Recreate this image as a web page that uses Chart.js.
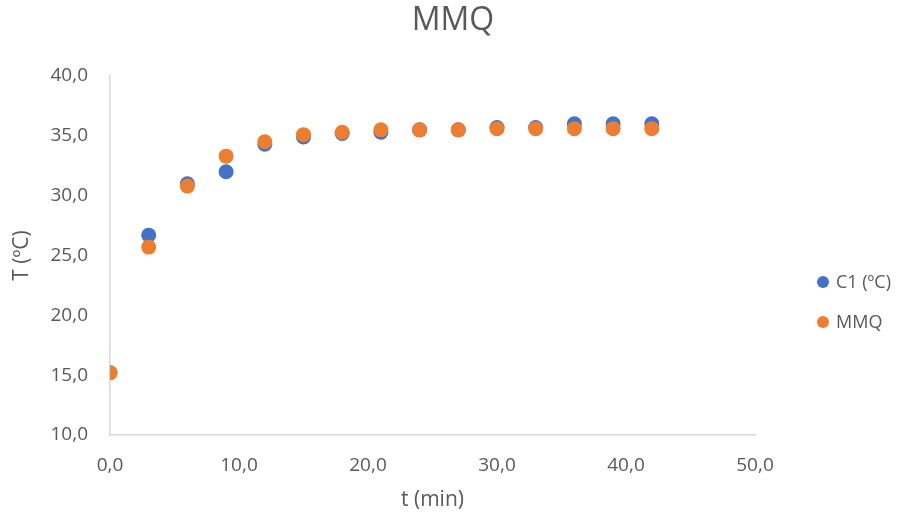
<!DOCTYPE html>
<html lang="pt">
<head>
  <meta charset="UTF-8">
  <title>MMQ</title>
  <script src="https://cdn.jsdelivr.net/npm/chart.js"></script>
  <style>
    html, body { margin: 0; padding: 0; background: #ffffff; }
    #wrap { width: 906px; height: 519px; }
  </style>
</head>
<body>
  <div id="wrap"><canvas id="chart" width="906" height="519"></canvas></div>

  <script>
    // time (min)
    const times = [0, 3, 6, 9, 12, 15, 18, 21, 24, 27, 30, 33, 36, 39, 42];
    // measured C1 temperature (ºC)
    const c1 = [15.2, 26.7, 31.0, 32.0, 34.3, 34.9, 35.2, 35.3, 35.5, 35.5, 35.7, 35.7, 36.0, 36.0, 36.0];
    // least squares fit (MMQ)
    const mmq = [15.2, 25.7, 30.8, 33.3, 34.5, 35.1, 35.3, 35.5, 35.5, 35.5, 35.6, 35.6, 35.6, 35.6, 35.6];

    const xTicks = [0, 10, 20, 30, 40, 50];
    const yTicks = [10, 15, 20, 25, 30, 35, 40];

    const textColor = '#595959';
    const axisColor = '#d9d9d9';
    const font = '"Open Sans", sans-serif';

    const toPoints = ys => times.map((t, i) => ({ x: t, y: ys[i] }));
    const fmt = v => v.toFixed(1).replace('.', ',');

    // legend drawn at the right, like the spreadsheet one
    const sideLegend = {
      id: 'sideLegend',
      afterDraw(chart) {
        const ctx = chart.ctx;
        const items = chart.data.datasets;
        ctx.save();
        ctx.font = '18px ' + font;
        ctx.textBaseline = 'middle';
        items.forEach((ds, i) => {
          const y = 282 + i * 40;
          ctx.fillStyle = ds.backgroundColor;
          ctx.beginPath();
          ctx.arc(823, y, 6, 0, Math.PI * 2);
          ctx.fill();
          ctx.fillStyle = textColor;
          ctx.fillText(ds.label, 836, y + 1);
        });
        ctx.restore();
      }
    };

    new Chart(document.getElementById('chart'), {
      type: 'scatter',
      data: {
        datasets: [
          {
            label: 'C1 (ºC)',
            data: toPoints(c1),
            backgroundColor: '#4472c4',
            borderWidth: 0,
            pointRadius: 7.5,
            pointHoverRadius: 7.5,
            order: 1
          },
          {
            label: 'MMQ',
            data: toPoints(mmq),
            backgroundColor: '#ed7d31',
            borderWidth: 0,
            pointRadius: 7.5,
            pointHoverRadius: 7.5,
            order: 0
          }
        ]
      },
      options: {
        responsive: false,
        animation: false,
        layout: { padding: 0 },
        plugins: {
          legend: { display: false },
          tooltip: { enabled: false },
          title: {
            display: true,
            text: 'MMQ',
            color: textColor,
            font: { family: font, size: 32, weight: 'normal', lineHeight: 1.2 },
            padding: { top: 2, bottom: 35.6 }
          }
        },
        scales: {
          x: {
            type: 'linear',
            min: xTicks[0],
            max: xTicks[xTicks.length - 1],
            afterBuildTicks: s => { s.ticks = xTicks.map(v => ({ value: v })); },
            afterFit: s => { s.height = 84; },
            grid: { display: false, drawTicks: false },
            border: { display: true, color: axisColor, width: 1.5 },
            ticks: {
              color: textColor,
              padding: 19,
              maxRotation: 0,
              font: { family: font, size: 19 },
              callback: v => fmt(v)
            },
            title: {
              display: true,
              text: 't (min)',
              color: textColor,
              font: { family: font, size: 21 },
              padding: { top: 0, bottom: 6 }
            }
          },
          y: {
            type: 'linear',
            min: yTicks[0],
            max: yTicks[yTicks.length - 1],
            afterBuildTicks: s => { s.ticks = yTicks.map(v => ({ value: v })); },
            afterFit: s => { s.width = 110; },
            grid: { display: false, drawTicks: false },
            border: { display: true, color: axisColor, width: 1.5 },
            ticks: {
              color: textColor,
              padding: 22,
              font: { family: font, size: 19 },
              callback: v => fmt(v)
            },
            title: {
              display: true,
              text: 'T (ºC)',
              color: textColor,
              font: { family: font, size: 21 },
              padding: { top: 9, bottom: 0 }
            }
          },
          // empty right-hand box that keeps room for the legend
          side: {
            type: 'linear',
            position: 'right',
            display: true,
            afterFit: s => { s.width = 151; },
            grid: { display: false, drawTicks: false },
            border: { display: false },
            ticks: { display: false }
          }
        }
      },
      plugins: [sideLegend]
    });
  </script>
</body>
</html>
